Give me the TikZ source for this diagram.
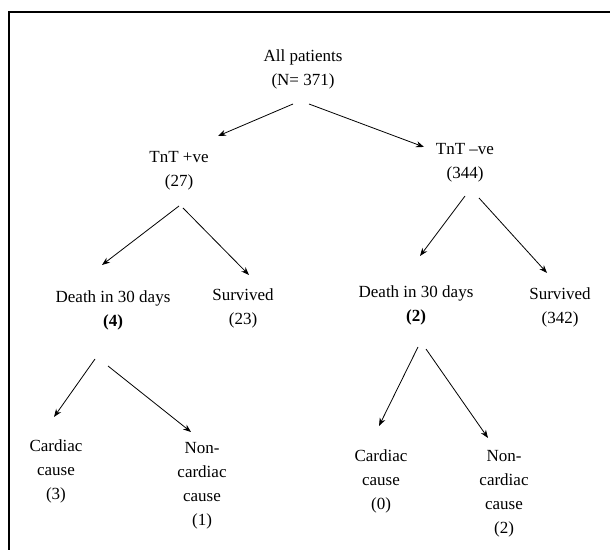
\documentclass[tikz,border=0pt]{standalone}
\usepackage{fontspec}
\setmainfont{Liberation Serif}
\usetikzlibrary{arrows.meta}

\begin{document}
\begin{tikzpicture}[x=0.5pt,y=-0.5pt,>={Stealth[length=4pt,width=3pt]},
  box/.style={align=center,inner sep=0pt,font=\fontsize{8.5}{12}\selectfont},
  arr/.style={->,line width=0.4pt}]
  \useasboundingbox (0,0) rectangle (610,550);
  % frame (top and left edges only)
  \draw[line width=1pt] (610,12) -- (9,12) -- (9,550);

  \node[box] (root) at (303,69) {All patients\\(N= 371)};
  \node[box] (tpos) at (179,171) {TnT +ve\\(27)};
  \node[box] (tneg) at (465,163) {TnT --ve\\(344)};
  \node[box] (dpos) at (113,310) {Death in 30 days\\\textbf{(4)}};
  \node[box] (spos) at (243,308) {Survived\\(23)};
  \node[box] (dneg) at (416,305) {Death in 30 days\\\textbf{(2)}};
  \node[box] (sneg) at (560,307) {Survived\\(342)};
  \node[box] (cpos) at (56,471) {Cardiac\\cause\\(3)};
  \node[box] (npos) at (202,486) {Non-\\cardiac\\cause\\(1)};
  \node[box] (cneg) at (381,481) {Cardiac\\cause\\(0)};
  \node[box] (nneg) at (504,494) {Non-\\cardiac\\cause\\(2)};

  \draw[arr] ([shift={(-10,35)}]root.center) -- ([shift={(39,-35)}]tpos.center);
  \draw[arr] ([shift={(6,35)}]root.center) -- ([shift={(-41,-16)}]tneg.center);
  \draw[arr] ([shift={(0,35)}]tpos.center) -- ([shift={(-11,-45)}]dpos.center);
  \draw[arr] ([shift={(4,37)}]tpos.center) -- ([shift={(6,-33)}]spos.center);
  \draw[arr] ([shift={(0,33)}]tneg.center) -- ([shift={(4,-49)}]dneg.center);
  \draw[arr] ([shift={(14,35)}]tneg.center) -- ([shift={(-13,-34)}]sneg.center);
  \draw[arr] ([shift={(-18,49)}]dpos.center) -- ([shift={(-2,-54)}]cpos.center);
  \draw[arr] ([shift={(-5,56)}]dpos.center) -- ([shift={(-11,-54)}]npos.center);
  \draw[arr] ([shift={(2,42)}]dneg.center) -- ([shift={(-2,-55)}]cneg.center);
  \draw[arr] ([shift={(10,44)}]dneg.center) -- ([shift={(-16,-56)}]nneg.center);
\end{tikzpicture}
\end{document}
